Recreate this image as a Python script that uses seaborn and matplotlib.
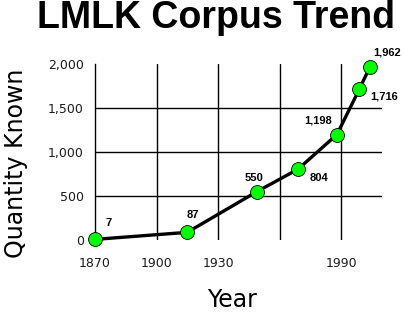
import matplotlib
matplotlib.use("Agg")
import matplotlib.pyplot as plt
import seaborn as sns
import pandas as pd

years = [1870, 1915, 1949, 1969, 1988, 1999, 2004]
counts = [7, 87, 550, 804, 1198, 1716, 1962]
labels = ["7", "87", "550", "804", "1,198", "1,716", "1,962"]
label_offsets = [(14, 16), (6, 17), (-3, 14), (21, -9), (-19, 14), (25, -8), (17, 15)]
xticks = [1870, 1900, 1930, 1960, 1990]
xticklabels = ["1870", "1900", "1930", "", "1990"]
yticks = [0, 500, 1000, 1500, 2000]
yticklabels = ["0", "500", "1,000", "1,500", "2,000"]

sns.set_style("white")
plt.rcParams['font.family'] = ['DejaVu Sans']
plt.rcParams['text.color'] = 'black'

W, H = 404, 317
fig = plt.figure(figsize=(W / 100, H / 100), dpi=100)
ax = fig.add_axes([95 / W, (H - 240) / H, (382 - 95) / W, (240 - 64) / H])

# grid lines
for yv in [500, 1000, 1500]:
    ax.axhline(yv, color="black", lw=1, zorder=1)
for xv in [1900, 1930, 1960, 1990]:
    ax.axvline(xv, color="black", lw=1, zorder=1)

df = pd.DataFrame({"Year": years, "Quantity": counts})
sns.lineplot(data=df, x="Year", y="Quantity", ax=ax, color="black", lw=2.4,
             marker="o", markersize=10, markerfacecolor="#00ff00",
             markeredgecolor="black", markeredgewidth=0.6, zorder=3, clip_on=False)

for xv, yv, lab, off in zip(years, counts, labels, label_offsets):
    ax.annotate(lab, (xv, yv), xytext=off, textcoords="offset pixels",
                ha="center", va="center", fontsize=8, fontweight="bold",
                family="Liberation Sans", color="black", zorder=4)

ax.set_xlim(1870, 2010)
ax.set_ylim(0, 2000)
ax.set_xticks(xticks)
ax.set_xticklabels(xticklabels)
ax.set_yticks(yticks)
ax.set_yticklabels(yticklabels)
ax.tick_params(axis="both", direction="out", length=4, width=1, color="black",
               labelsize=9, labelcolor="#1a1a1a")
ax.tick_params(axis="x", pad=8)
ax.tick_params(axis="y", pad=4)
for s in ["top", "right", "bottom"]:
    ax.spines[s].set_visible(False)
ax.spines["left"].set_color("black")
ax.spines["left"].set_linewidth(1)
ax.set_xlabel("")
ax.set_ylabel("")

fig.text(216 / W, 1 - 28 / H, "LMLK Corpus Trend", ha="center", va="baseline",
         fontsize=27, fontweight="bold", family="Liberation Sans", color="black")
fig.text(16 / W, 1 - 163 / H, "Quantity Known", ha="center", va="center",
         rotation=90, fontsize=17, color="black")
fig.text(232 / W, 1 - 300 / H, "Year", ha="center", va="center", fontsize=17,
         color="black")

fig.savefig("out.png", dpi=100)
